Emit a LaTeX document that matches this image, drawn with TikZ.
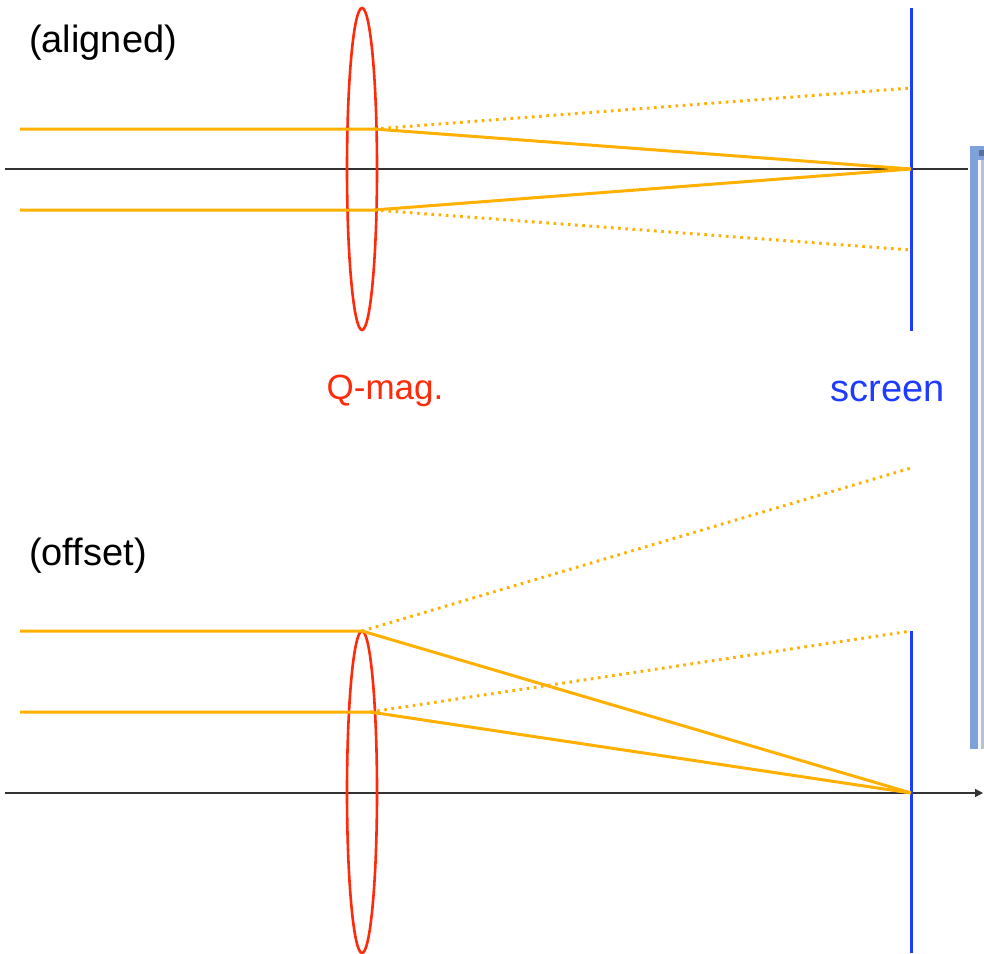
\documentclass[tikz,border=0pt]{standalone}
\usepackage{fontspec}
\setmainfont{Liberation Sans}
\usetikzlibrary{shapes.geometric,arrows.meta}
\definecolor{beam}{HTML}{FFB000}
\definecolor{lensred}{HTML}{FF2A0A}
\definecolor{scrblue}{HTML}{1E3CFF}
\definecolor{winblue}{HTML}{7FA2DA}
\definecolor{wingray}{HTML}{B9C3CC}
\tikzset{
  axisline/.style={black!80, line width=1.4pt},
  lensshape/.style={ellipse, draw=lensred, line width=2.6pt, inner sep=0pt, outer sep=0pt, minimum width=30pt, minimum height=322pt},
  scrline/.style={scrblue, line width=3pt},
  ray/.style={beam, line width=3pt},
  dotray/.style={beam, line width=3pt, dash pattern=on 2.6pt off 4.6pt},
  lbl/.style={font=\fontsize{38}{40}\selectfont, inner sep=0pt, anchor=west}
}
\begin{document}
\begin{tikzpicture}[x=1pt,y=-1pt]
\useasboundingbox (0,0) rectangle (984,953);
% window fragment on right edge
\fill[winblue] (970,146) rectangle (984,749);
\fill[white!92!winblue] (978,160) rectangle (981,749);
\fill[wingray] (981,160) rectangle (984,749);
\fill[winblue!70!black] (979,150) rectangle (984,156);

% ---------- top panel (aligned) ----------
\coordinate (axAL) at (5,169);
\coordinate (axAR) at (968,169);
\draw[axisline] (axAL) -- (axAR);
\node[lensshape] (lensA) at (362,169) {};
\coordinate (scrAt) at (911,8);
\coordinate (scrAb) at (911,331);
\draw[scrline] (scrAt) -- (scrAb);
\coordinate (inA1) at (20,129);
\coordinate (kA1) at (374,129);
\coordinate (inA2) at (20,210);
\coordinate (kA2) at (374,210);
\coordinate (focA) at (911,169);
\coordinate (dA1) at (911,88);
\coordinate (dA2) at (911,250);
\draw[dotray] (kA1) -- (dA1);
\draw[dotray] (kA2) -- (dA2);
\draw[ray] (inA1) -- (kA1) -- (focA);
\draw[ray] (inA2) -- (kA2) -- (focA);
\node[lbl] (aligned) at (29,43) {(aligned)};

% labels
\node[lbl, anchor=center, text=lensred, font=\fontsize{35}{40}\selectfont] (qmag) at (385,391) {Q-mag.};
\node[lbl, anchor=center, text=scrblue] (screen) at (888,391) {screen};

% ---------- bottom panel (offset) ----------
\coordinate (axBL) at (5,793);
\coordinate (axBR) at (983,793);
\draw[axisline, -{Triangle[length=8pt,width=8pt]}] (axBL) -- (axBR);
\node[lensshape] (lensB) at (362,792) {};
\coordinate (scrBt) at (911,631);
\coordinate (scrBb) at (911,953);
\draw[scrline] (scrBt) -- (scrBb);
\coordinate (inB1) at (20,631);
\coordinate (kB1) at (362,631);
\coordinate (inB2) at (20,712);
\coordinate (kB2) at (370,712);
\coordinate (focB) at (911,793);
\coordinate (dB1) at (911,468);
\coordinate (dB2) at (911,631);
\draw[dotray] (kB1) -- (dB1);
\draw[dotray] (kB2) -- (dB2);
\draw[ray] (inB1) -- (kB1) -- (focB);
\draw[ray] (inB2) -- (kB2) -- (focB);
\node[lbl] (offset) at (29,556) {(offset)};
\end{tikzpicture}
\end{document}
